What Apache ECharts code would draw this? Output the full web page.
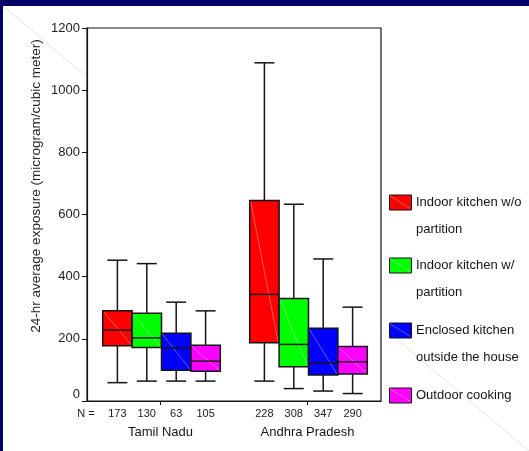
<!DOCTYPE html>
<html>
<head>
<meta charset="utf-8">
<script src="https://cdn.jsdelivr.net/npm/echarts@6/dist/echarts.min.js"></script>
<style>
  html, body { margin: 0; padding: 0; background: #fff; }
  #chart { width: 529px; height: 451px; }
</style>
</head>
<body>
<div id="chart"></div>
<script>
// Regions on the category axis
const regions = ['Tamil Nadu', 'Andhra Pradesh'];

// Kitchen types (one box series each) and their legend wording
const kitchenTypes = [
  'Indoor kitchen w/o partition',
  'Indoor kitchen w/ partition',
  'Enclosed kitchen outside the house',
  'Outdoor cooking'
];
const legendLines = [
  ['Indoor kitchen w/o', 'partition'],
  ['Indoor kitchen w/', 'partition'],
  ['Enclosed kitchen', 'outside the house'],
  ['Outdoor cooking']
];
const colors = ['#ff0000', '#00ff00', '#0000ff', '#ff00ff'];

// Box statistics per region: [low whisker, Q1, median, Q3, high whisker]
const noPartition     = [[59, 178, 228, 290, 453], [64, 187, 343, 645, 1088]];
const withPartition   = [[64, 172, 203, 282, 442], [40, 110, 182, 330, 633]];
const enclosedOutside = [[64,  99, 171, 218, 318], [32,  84, 123, 234, 457]];
const outdoorCooking  = [[64,  96, 128, 179, 290], [24,  87, 126, 175, 302]];

// Sample sizes (N) per kitchen type, per region
const nNoPartition     = [173, 228];
const nWithPartition   = [130, 308];
const nEnclosedOutside = [63, 347];
const nOutdoorCooking  = [105, 290];

// Value axis
const yMin = 0, yMax = 1200, yStep = 200;

const boxStats = [noPartition, withPartition, enclosedOutside, outdoorCooking];
const sampleSizes = [nNoPartition, nWithPartition, nEnclosedOutside, nOutdoorCooking];

const FONT = '"Liberation Sans", Arial, sans-serif';
const INK = '#151515';

function renderBox(params, api) {
  const s = params.seriesIndex;
  const cat = api.value(0);
  const band = api.size([1, 0])[0];
  const w = band * 0.2;
  const cx = api.coord([cat, 0])[0] + (s - 1.5) * w + 1;
  const y = v => api.coord([cat, v])[1];
  const yl = y(api.value(1)), yq1 = y(api.value(2)), ym = y(api.value(3));
  const yq3 = y(api.value(4)), yh = y(api.value(5));
  const cap = w * 0.68;
  const cs = params.coordSys;
  const stroke = { stroke: INK, lineWidth: 1.5 };
  return {
    type: 'group',
    children: [
      { type: 'line', shape: { x1: cx, y1: yh, x2: cx, y2: yq3 }, style: stroke },
      { type: 'line', shape: { x1: cx - cap / 2, y1: yh, x2: cx + cap / 2, y2: yh }, style: stroke },
      { type: 'line', shape: { x1: cx, y1: yq1, x2: cx, y2: yl }, style: stroke },
      { type: 'line', shape: { x1: cx - cap / 2, y1: yl, x2: cx + cap / 2, y2: yl }, style: stroke },
      { type: 'rect', shape: { x: cx - w / 2, y: yq3, width: w, height: yq1 - yq3 },
        style: { fill: colors[s], stroke: INK, lineWidth: 1.5 } },
      { type: 'line', shape: { x1: cx - w / 2 + 1, y1: yq3 + 1, x2: cx + w / 2 - 1, y2: yq1 - 1 },
        style: { stroke: 'rgba(255,255,255,0.35)', lineWidth: 1 } },
      { type: 'line', shape: { x1: cx - w / 2, y1: ym, x2: cx + w / 2, y2: ym }, style: stroke },
      { type: 'text', x: cx, y: cs.y + cs.height + 13,
        style: { text: String(api.value(6)), font: '11px ' + FONT, fill: '#222',
                 align: 'center', verticalAlign: 'middle' } }
    ]
  };
}

const series = kitchenTypes.map((name, s) => ({
  name: name,
  type: 'custom',
  renderItem: renderBox,
  clip: false,
  encode: { x: 0, y: [1, 2, 3, 4, 5] },
  data: regions.map((r, i) => [i].concat(boxStats[s][i], [sampleSizes[s][i]]))
}));

// Legend drawn as swatch + text lines
const legendCenters = [202, 265, 330, 395];
const legendLineGap = 27;
const legendGraphics = [];
legendLines.forEach((lines, i) => {
  const cy = legendCenters[i];
  legendGraphics.push({
    type: 'rect', left: 389, top: cy - 7.5, z: 10,
    shape: { x: 0, y: 0, width: 22, height: 15 },
    style: { fill: colors[i], stroke: INK, lineWidth: 1 }
  });
  legendGraphics.push({
    type: 'line', z: 11,
    shape: { x1: 390, y1: cy - 6.5, x2: 410, y2: cy + 6.5 },
    style: { stroke: 'rgba(255,255,255,0.35)', lineWidth: 1 }
  });
  lines.forEach((t, k) => {
    legendGraphics.push({
      type: 'text', x: 416, y: cy + k * legendLineGap, z: 10,
      style: { text: t, font: '13px ' + FONT, fill: INK, align: 'left', verticalAlign: 'middle' }
    });
  });
});

const chart = echarts.init(document.getElementById('chart'), null, { renderer: 'canvas' });
chart.setOption({
  animation: false,
  backgroundColor: '#ffffff',
  grid: { left: 87, right: 148, top: 28, bottom: 50, show: true,
          borderColor: INK, borderWidth: 1.2, backgroundColor: 'transparent' },
  xAxis: {
    type: 'category',
    data: regions,
    axisLine: { lineStyle: { color: INK, width: 1.2 } },
    axisTick: { show: true, alignWithLabel: true, length: 4, lineStyle: { color: INK } },
    axisLabel: { margin: 25, fontSize: 13, fontFamily: FONT, color: INK },
    splitLine: { show: false }
  },
  yAxis: {
    type: 'value',
    min: yMin, max: yMax, interval: yStep,
    axisLine: { show: true, lineStyle: { color: INK, width: 1.2 } },
    axisTick: { show: true, length: 5, lineStyle: { color: INK } },
    axisLabel: {
      margin: 7, fontSize: 13, fontFamily: FONT, color: '#222',
      formatter: v => (v === yMin ? '{z|' + v + '}' : String(v)),
      rich: { z: { fontSize: 13, fontFamily: FONT, color: '#222', padding: [0, 0, 14, 0] } }
    },
    splitLine: { show: false }
  },
  series: series,
  graphic: [
    // faint slide diagonal, outside the plot frame
    { type: 'line', z: -5, shape: { x1: 3, y1: 6, x2: 87, y2: 77 },
      style: { stroke: '#e4e4e4', lineWidth: 1 } },
    { type: 'line', z: -5, shape: { x1: 381, y1: 326, x2: 529, y2: 451 },
      style: { stroke: '#e4e4e4', lineWidth: 1 } },
    // navy slide frame
    { type: 'rect', z: 20, shape: { x: 0, y: 0, width: 529, height: 6 }, style: { fill: '#000066' } },
    { type: 'rect', z: 20, shape: { x: 0, y: 0, width: 3, height: 451 }, style: { fill: '#000066' } },
    // axis title
    { type: 'text', x: 36, y: 186, rotation: Math.PI / 2, z: 10,
      style: { text: '24-hr average exposure (microgram/cubic meter)', font: '13.5px ' + FONT,
               fill: '#222', align: 'center', verticalAlign: 'middle' } },
    // N row caption
    { type: 'text', x: 86, y: 414, z: 10,
      style: { text: 'N =', font: '11px ' + FONT, fill: '#222', align: 'center', verticalAlign: 'middle' } }
  ].concat(legendGraphics)
});
</script>
</body>
</html>
